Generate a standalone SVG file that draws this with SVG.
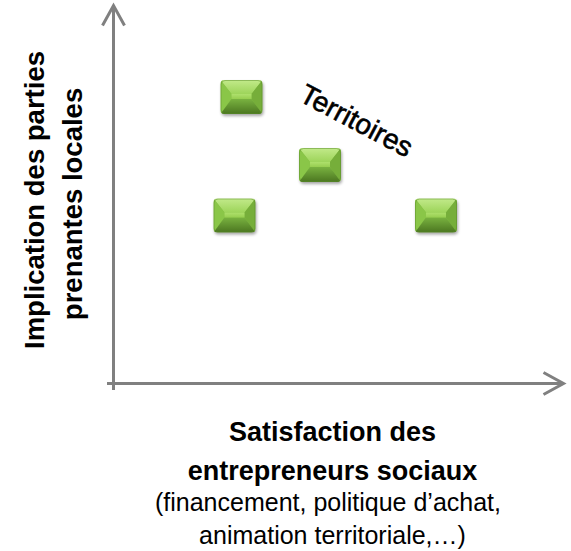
<svg xmlns="http://www.w3.org/2000/svg" width="571" height="551" viewBox="0 0 571 551">
  <style>
    .axis { stroke: #808080; stroke-width: 3; fill: none; }
    .lbl { font-family: "Liberation Sans", Arial, sans-serif; fill: #000; }
    .b { font-weight: bold; font-size: 27px; }
    .r { font-size: 25px; }
  </style>
  <defs>
    <marker id="arr" markerUnits="userSpaceOnUse" markerWidth="30" markerHeight="30" viewBox="-25 -15 30 30" refX="0" refY="0" orient="auto" overflow="visible">
      <path d="M -20 -11 L 0 0 L -20 11" fill="none" stroke="#808080" stroke-width="3" stroke-linejoin="miter"/>
    </marker>
    <filter id="sh" x="-20%" y="-20%" width="140%" height="150%">
      <feGaussianBlur stdDeviation="1.5"/>
    </filter>
    <linearGradient id="gTop" x1="0" y1="0" x2="0" y2="1">
      <stop offset="0" stop-color="#c2ea8a"/>
      <stop offset="1" stop-color="#9dd45a"/>
    </linearGradient>
    <linearGradient id="gBot" x1="0" y1="0" x2="0" y2="1">
      <stop offset="0" stop-color="#79b240"/>
      <stop offset="1" stop-color="#4b7620"/>
    </linearGradient>
    <linearGradient id="gMid" x1="0" y1="0" x2="0" y2="1">
      <stop offset="0" stop-color="#aee06c"/>
      <stop offset="1" stop-color="#96ce50"/>
    </linearGradient>
    <clipPath id="clipBox">
      <rect x="0" y="0" width="42" height="34" rx="4"/>
    </clipPath>
    <g id="box">
      <rect x="1" y="2" width="42" height="34" rx="4" fill="#000" opacity="0.35" filter="url(#sh)"/>
      <g clip-path="url(#clipBox)">
        <rect x="0" y="0" width="42" height="34" fill="#84bd44"/>
        <polygon points="0,0 42,0 31,14 11,14" fill="url(#gTop)"/>
        <polygon points="0,0 11,14 11,19 0,34" fill="#8ac648"/>
        <polygon points="42,0 31,14 31,19 42,34" fill="#76ae3a"/>
        <polygon points="0,34 42,34 31,19 11,19" fill="url(#gBot)"/>
        <rect x="11" y="14" width="20" height="5" fill="url(#gMid)"/>
        <rect x="0.5" y="0.5" width="41" height="33" rx="4" fill="none" stroke="#5a8c2a" stroke-opacity="0.5" stroke-width="1"/>
      </g>
    </g>
  </defs>

  <g id="connectors">
    <line class="axis" x1="113.5" y1="390" x2="113.5" y2="5.5" marker-end="url(#arr)"/>
    <line class="axis" x1="107" y1="383.5" x2="563.5" y2="383.5" marker-end="url(#arr)"/>
  </g>

  <g id="node-1"><use href="#box" x="220.5" y="80"/></g>
  <g id="node-2"><use href="#box" x="299" y="148"/></g>
  <g id="node-3"><use href="#box" x="213.5" y="198.5"/></g>
  <g id="node-4"><use href="#box" x="415" y="198.5"/></g>

  <g id="label-territoires">
    <text class="lbl" font-size="28" stroke="#000" stroke-width="0.6" text-anchor="middle" transform="translate(352,129) rotate(28)">Territoires</text>
  </g>

  <g id="label-y">
    <text class="lbl b" style="font-size:27.5px" text-anchor="middle" transform="translate(44,200) rotate(-90)">Implication des parties</text>
    <text class="lbl b" style="font-size:27.5px" text-anchor="middle" transform="translate(82,204) rotate(-90)">prenantes locales</text>
  </g>

  <g id="label-x">
    <text class="lbl b" x="332.5" y="441" text-anchor="middle">Satisfaction des</text>
    <text class="lbl b" x="332.5" y="480" text-anchor="middle">entrepreneurs sociaux</text>
    <text class="lbl r" x="328" y="511" text-anchor="middle">(financement, politique d’achat,</text>
    <text class="lbl r" x="332.5" y="544" text-anchor="middle">animation territoriale,…)</text>
  </g>
</svg>
